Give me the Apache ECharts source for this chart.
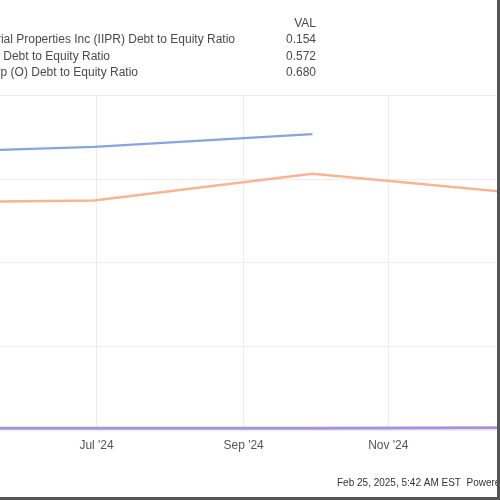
<!DOCTYPE html>
<html>
<head>
<meta charset="utf-8">
<script src="https://cdn.jsdelivr.net/npm/echarts@6/dist/echarts.min.js"></script>
<style>html,body{margin:0;padding:0;background:#fff;}#c{width:500px;height:500px;}</style>
</head>
<body>
<div id="c"></div>
<script>
var quarterDates = ["2024-03-31", "2024-06-30", "2024-09-30", "2024-12-31"];
var realtyDates = ["2024-03-31", "2024-06-30", "2024-09-30"];
var realtyValues = [0.645, 0.657, 0.680];
var prologisValues = [0.557, 0.561, 0.609, 0.572];
var iiprValues = [0.153, 0.153, 0.153, 0.154];
var xTickDates = ["2024-07-01", "2024-09-01", "2024-11-01"];
var legendNames = [
  "Innovative Industrial Properties Inc (IIPR) Debt to Equity Ratio",
  "Prologis Inc (PLD) Debt to Equity Ratio",
  "Realty Income Corp (O) Debt to Equity Ratio"
];
var legendValues = ["0.154", "0.572", "0.680"];
var footerText = "Feb 25, 2025, 5:42 AM EST  Powered by YCharts";
var months = ["Jan","Feb","Mar","Apr","May","Jun","Jul","Aug","Sep","Oct","Nov","Dec"];

function pairs(dates, vals) { return dates.map(function (d, i) { return [d, vals[i]]; }); }
function fmtMonth(v) { var d = new Date(v); return months[d.getUTCMonth()] + " '" + String(d.getUTCFullYear()).slice(2); }

var DAY = 86400000;
var xMin = new Date("2024-07-01").getTime() - 40.7 * DAY;
var xMax = new Date("2024-11-01").getTime() + 45.4 * DAY;

var chart = echarts.init(document.getElementById('c'), null, { renderer: 'canvas' });
var FF = '"Liberation Sans", Arial, sans-serif';
var font = '12px ' + FF;
var txtColor = '#4a4a4a';
var graphics = [
  { type: 'text', x: 316, y: 24, style: { text: 'VAL', align: 'right', verticalAlign: 'middle', font: font, fill: txtColor } }
];
var nameRight = [235, 110, 138];
for (var i = 0; i < legendNames.length; i++) {
  var yy = 40 + i * 16.5;
  graphics.push({ type: 'text', x: nameRight[i], y: yy, style: { text: legendNames[i], align: 'right', verticalAlign: 'middle', font: font, fill: txtColor } });
  graphics.push({ type: 'text', x: 316, y: yy, style: { text: legendValues[i], align: 'right', verticalAlign: 'middle', font: font, fill: txtColor } });
}
graphics.push({ type: 'text', x: 337, y: 483, style: { text: footerText, align: 'left', verticalAlign: 'middle', font: '10px ' + FF, fill: '#333' } });
graphics.push({ type: 'rect', shape: { x: 497, y: 0, width: 3, height: 500 }, style: { fill: '#555' }, z: 100 });
graphics.push({ type: 'rect', shape: { x: 0, y: 497, width: 500, height: 3 }, style: { fill: '#555' }, z: 100 });

chart.setOption({
  animation: false,
  backgroundColor: '#fff',
  grid: { left: 0, right: 4, top: 95, bottom: 70, containLabel: false },
  xAxis: {
    type: 'time', min: xMin, max: xMax,
    axisLine: { show: false }, axisTick: { show: false },
    splitLine: { show: false },
    axisLabel: { show: false }
  },
  yAxis: {
    type: 'value', position: 'right', min: 0.15, max: 0.75, interval: 0.15,
    axisLabel: { show: false }, axisLine: { show: false }, axisTick: { show: false },
    splitLine: { lineStyle: { color: '#ececec', width: 1 } }
  },
  graphic: graphics,
  series: [
    {
      name: legendNames[0], type: 'line', data: pairs(quarterDates, iiprValues), showSymbol: false,
      lineStyle: { color: '#a890e0', width: 3 }, itemStyle: { color: '#a890e0' }, z: 3,
      markLine: {
        silent: true, symbol: 'none', z: 1,
        label: {
          show: true, position: 'start', distance: 10,
          formatter: function (p) { return fmtMonth(p.value); },
          color: '#555', fontSize: 12, fontFamily: FF
        },
        lineStyle: { color: '#ececec', type: 'solid', width: 1 },
        data: xTickDates.map(function (d) { return { xAxis: new Date(d).getTime() }; })
      }
    },
    { name: legendNames[2], type: 'line', data: pairs(realtyDates, realtyValues), showSymbol: false, lineStyle: { color: '#86a5e0', width: 2.4 }, itemStyle: { color: '#86a5e0' }, z: 3 },
    { name: legendNames[1], type: 'line', data: pairs(quarterDates, prologisValues), showSymbol: false, lineStyle: { color: '#f9b592', width: 2.4 }, itemStyle: { color: '#f9b592' }, z: 3 }
  ]
});
</script>
</body>
</html>
